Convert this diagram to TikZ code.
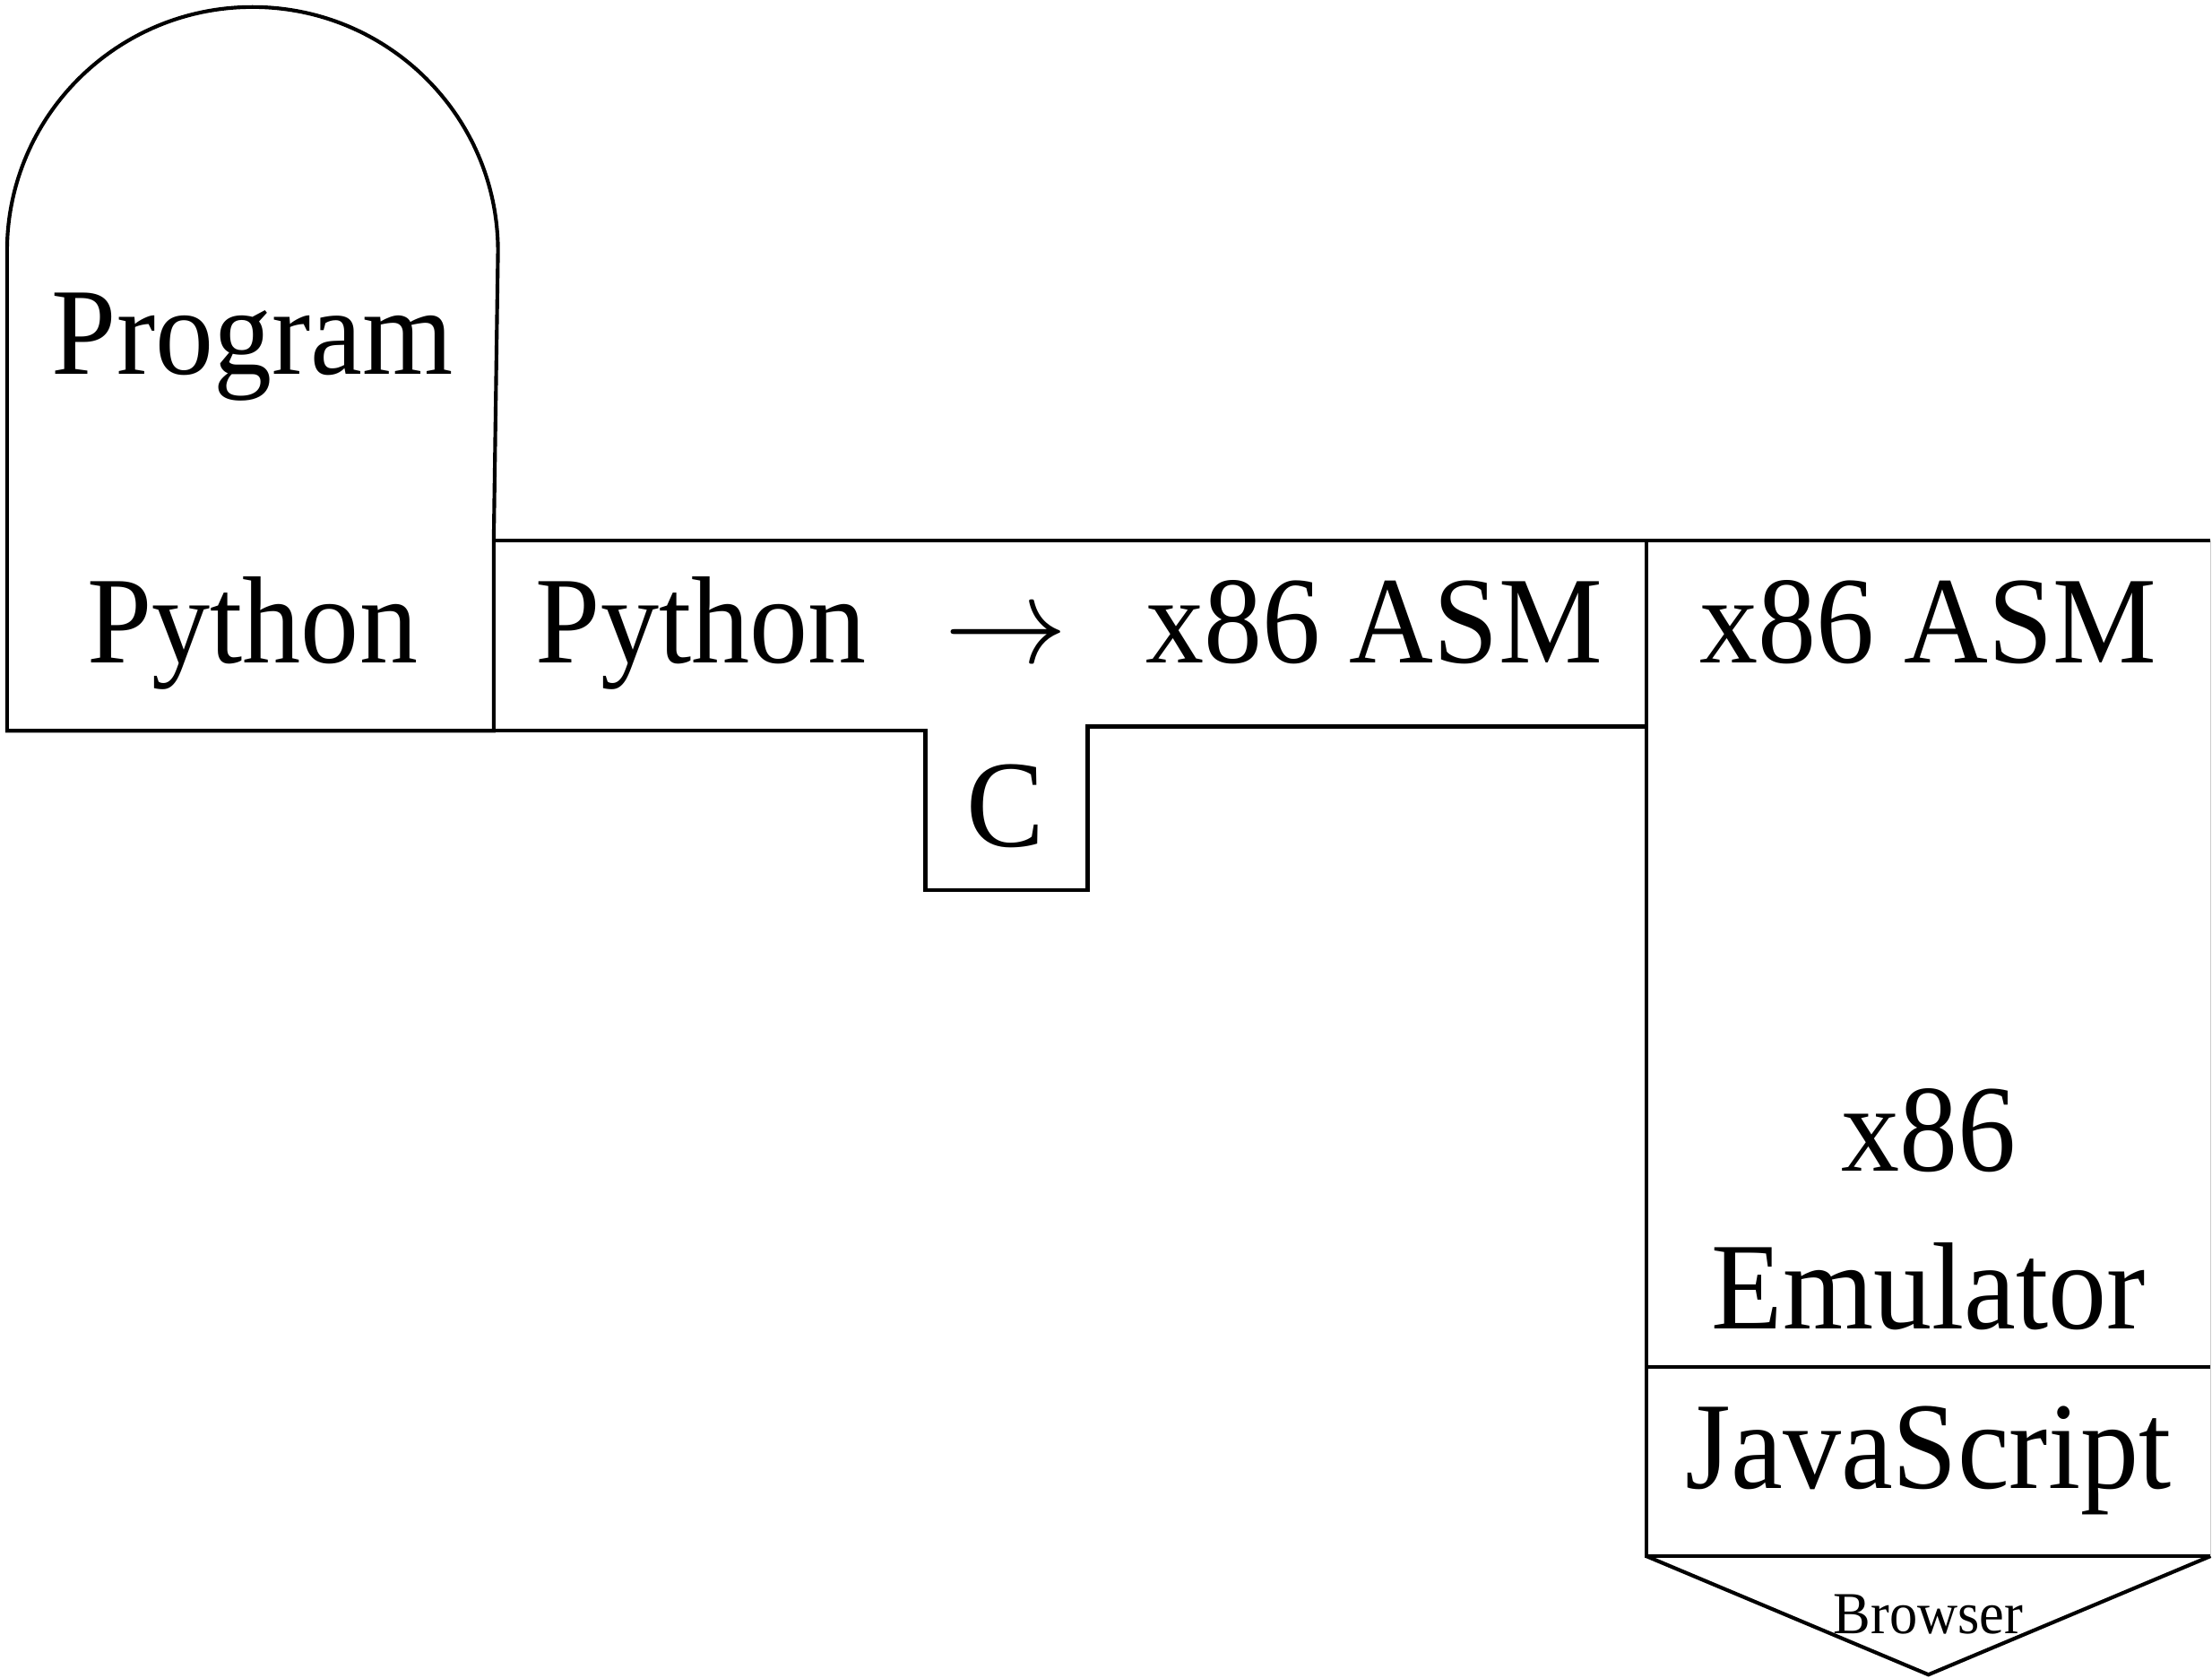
\documentclass[tikz,border=0pt]{standalone}
\usepackage{fontspec}
\setmainfont{Liberation Serif}[FakeStretch=0.94]

\begin{document}
\begin{tikzpicture}[x=0.01cm,y=0.01cm,line width=0.75pt,
    big/.style={anchor=base,inner sep=0pt,font=\fontsize{25}{30}\selectfont},
    small/.style={anchor=base,inner sep=0pt,font=\fontsize{12}{14}\selectfont}]

    % Fix the size of the page
    \useasboundingbox (0,0) rectangle (1568,1189);

    % Corners of the program tombstone
    \coordinate (PL) at (5,671);
    \coordinate (PR) at (350,671);
    \coordinate (PT) at (353,1011);

    % Corners of the compiler T
    \coordinate (TL) at (350,806);
    \coordinate (TR) at (1167,806);
    \coordinate (TB) at (1167,674);

    % Corners of the emulator box
    \coordinate (EL) at (1167,86);
    \coordinate (ER) at (1567,86);
    \coordinate (ET) at (1567,806);
    \coordinate (EM) at (1167,220);
    \coordinate (EN) at (1567,220);
    \coordinate (V) at (1367,2);

    % Draw the program tombstone
    \draw (PL) -- (5,1011) arc[start angle=180, end angle=0, x radius=174, y radius=173]
        -- (350,806) -- (PR) -- cycle;

    % Draw the compiler T with the C foot
    \draw (TL) -- (PR) -- (656,671) -- (656,558) -- (771,558) -- (771,674) -- (TB);
    \draw (TL) -- (ET);

    % Draw the emulator box and the browser point
    \draw (TR) -- (EL) -- (ER);
    \draw (EM) -- (EN);
    \draw (EL) -- (V) -- (ER);
    \draw[gray!40,line width=0.3pt] (ET) -- (ER);

    % Add the labels
    \node[big] (prog) at (179,924) {Program};
    \node[big] (src) at (179,719) {Python};
    \node[big] (trsrc) at (497,719) {Python};
    \node[big] (trarrow) at (713,719) {$\rightarrow$};
    \node[big] (trtgt) at (974,719) {x86 ASM};
    \node[big] (trimpl) at (713,589) {C};
    \node[big] (asm) at (1367,719) {x86 ASM};
    \node[big] (emu) at (1367,359) {x86};
    \node[big] (emulator) at (1367,247) {Emulator};
    \node[big] (js) at (1367,134) {JavaScript};
    \node[small] (browser) at (1367,31) {Browser};

\end{tikzpicture}
\end{document}
